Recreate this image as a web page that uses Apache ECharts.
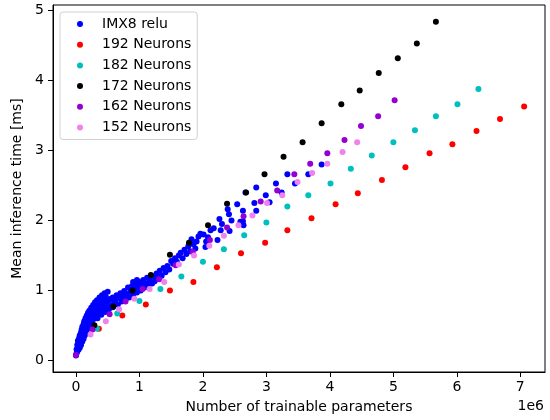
<!DOCTYPE html>
<html>
<head>
<meta charset="utf-8">
<script src="https://cdn.jsdelivr.net/npm/echarts@6/dist/echarts.min.js"></script>
<style>
  html, body { margin: 0; padding: 0; background: #fff; }
  #chart { width: 550px; height: 420px; }
</style>
</head>
<body>
<div id="chart"></div>
<script>
// x values are in millions of trainable parameters (axis shows "1e6")
const xTicks = [0, 1, 2, 3, 4, 5, 6, 7];
const yTicks = [0, 1, 2, 3, 4, 5];

// IMX8 relu cloud, [params (1e6), time ms]
const imxRelu = [
  [0.00,0.07],[0.01,0.10],[0.02,0.13],[0.01,0.16],[0.03,0.18],[0.02,0.22],[0.04,0.25],[0.03,0.28],
  [0.05,0.20],[0.06,0.24],[0.05,0.32],[0.07,0.30],[0.06,0.36],[0.08,0.34],[0.08,0.40],[0.09,0.44],
  [0.10,0.38],[0.10,0.48],[0.11,0.42],[0.12,0.52],[0.13,0.46],[0.13,0.56],[0.15,0.50],[0.15,0.60],
  [0.16,0.54],[0.17,0.64],[0.18,0.58],[0.19,0.68],[0.20,0.62],[0.21,0.71],[0.22,0.66],[0.24,0.75],
  [0.25,0.69],[0.27,0.79],[0.28,0.72],[0.30,0.83],[0.31,0.76],[0.33,0.86],[0.35,0.80],[0.37,0.90],
  [0.39,0.84],[0.41,0.93],[0.43,0.87],[0.45,0.96],[0.47,0.91],[0.50,0.98],
  [0.04,0.15],[0.06,0.18],[0.08,0.22],[0.10,0.27],[0.12,0.31],[0.14,0.36],[0.16,0.40],[0.19,0.45],
  [0.22,0.50],[0.25,0.55],[0.28,0.59],[0.31,0.63],[0.34,0.60],[0.36,0.67],[0.40,0.65],[0.42,0.71],
  [0.46,0.69],[0.48,0.75],[0.52,0.73],[0.55,0.78],[0.58,0.76],[0.60,0.82],
  [0.18,0.50],[0.21,0.55],[0.24,0.60],[0.27,0.65],[0.30,0.69],[0.33,0.72],[0.37,0.75],[0.40,0.78],
  [0.44,0.80],[0.48,0.83],[0.52,0.86],[0.55,0.88],[0.58,0.90],
  [0.62,0.86],[0.64,0.93],[0.66,0.80],[0.68,0.89],[0.70,0.96],[0.72,0.84],[0.74,0.92],[0.76,0.99],
  [0.78,0.87],[0.80,0.95],[0.82,1.04],[0.84,0.90],[0.86,0.98],[0.88,1.06],[0.90,0.94],[0.92,1.02],
  [0.90,1.12],[0.94,1.09],[0.96,0.97],[0.96,1.15],[0.98,1.05],[1.00,1.12],[1.02,1.00],[1.04,1.08],
  [1.06,1.15],[1.08,1.04],[1.10,1.10],[1.12,1.18],[1.14,1.07],[1.16,1.14],[1.20,1.10],[1.22,1.20],
  [1.24,1.13],[1.27,1.24],[1.30,1.17],[1.32,1.28],[1.35,1.21],[1.38,1.32],[1.41,1.26],[1.44,1.35],
  [1.47,1.30],[1.50,1.42],[1.53,1.38],[1.56,1.46],[1.59,1.41],[1.62,1.50],[1.65,1.54],[1.68,1.46],
  [1.71,1.58],[1.74,1.52],[1.77,1.63],[1.80,1.56],[1.82,1.73],[1.85,1.66],[1.88,1.60],[1.90,1.70],
  [1.93,1.77],[1.96,1.81],[2.01,1.80],[2.04,1.62],[2.05,1.70],[2.08,1.76],[2.12,1.86],[2.17,1.89],
  [2.23,1.72],[2.26,2.02],[2.28,1.86],[2.30,1.95],[2.39,2.16],[2.41,2.09],[2.42,1.85],[2.45,2.00],
  [2.54,2.23],[2.59,1.98],[2.63,2.14],[2.63,1.99],[2.64,1.93],[2.67,2.40],[2.81,2.25],[2.84,2.47],
  [2.84,2.14],[2.99,2.36],[3.05,2.26],[3.15,2.53],[3.24,2.40],[3.33,2.66],[3.45,2.53],[3.66,2.66],
  [3.87,2.80]
];

const n192X = [0.36,0.73,1.10,1.48,1.85,2.22,2.60,2.98,3.33,3.71,4.09,4.44,4.82,5.19,5.57,5.93,6.31,6.68,7.06];
const n192Y = [0.45,0.64,0.80,1.00,1.12,1.33,1.53,1.68,1.86,2.03,2.23,2.39,2.58,2.76,2.96,3.09,3.28,3.45,3.63];

const n182X = [0.33,0.65,1.00,1.33,1.66,2.00,2.33,2.65,3.00,3.33,3.66,4.01,4.33,4.66,5.00,5.34,5.67,6.01,6.34];
const n182Y = [0.45,0.67,0.85,1.02,1.20,1.41,1.59,1.79,1.97,2.20,2.36,2.53,2.74,2.93,3.12,3.29,3.49,3.66,3.88];

const n172X = [0.29,0.59,0.89,1.18,1.48,1.78,2.08,2.38,2.68,2.97,3.27,3.57,3.87,4.18,4.47,4.77,5.07,5.37,5.67];
const n172Y = [0.50,0.77,1.00,1.22,1.51,1.68,1.93,2.24,2.40,2.66,2.91,3.12,3.39,3.66,3.86,4.11,4.32,4.53,4.84];

const n162X = [0.00,0.26,0.53,0.78,1.05,1.31,1.57,1.84,2.11,2.38,2.64,2.91,3.17,3.44,3.69,3.96,4.23,4.49,4.76,5.02];
const n162Y = [0.076,0.44,0.66,0.84,1.02,1.16,1.36,1.55,1.72,1.90,2.06,2.27,2.43,2.66,2.81,2.96,3.15,3.35,3.49,3.72];

const n152X = [0.23,0.47,0.68,0.92,1.16,1.39,1.62,1.86,2.10,2.33,2.56,2.78,3.01,3.25,3.49,3.72,3.96,4.20,4.43];
const n152Y = [0.37,0.56,0.73,0.88,1.02,1.12,1.37,1.50,1.64,1.78,1.93,2.07,2.25,2.36,2.55,2.68,2.81,2.98,3.12];

const zip = (xs, ys) => xs.map((x, i) => [x, ys[i]]);

const font = 'DejaVu Sans';

const makeSeries = (name, color, data) => ({
  name: name,
  type: 'scatter',
  symbol: 'circle',
  symbolSize: 6,
  itemStyle: { color: color, opacity: 1 },
  emphasis: { disabled: true },
  data: data,
});

const chart = echarts.init(document.getElementById('chart'), null, { renderer: 'canvas' });

const option = {
  animation: false,
  backgroundColor: '#fff',
  textStyle: { fontFamily: font },
  grid: {
    left: 53, right: 5, top: 5, bottom: 48,
    show: true, borderColor: '#000', borderWidth: 1,
    containLabel: false,
  },
  legend: {
    left: 60, top: 12,
    orient: 'vertical',
    icon: 'circle',
    itemWidth: 6, itemHeight: 6,
    itemGap: 6.7,
    padding: [5, 6, 5, 17],
    backgroundColor: '#fff',
    borderColor: '#d0d0d0', borderWidth: 1, borderRadius: 3,
    textStyle: { fontFamily: font, fontSize: 14, color: '#000', lineHeight: 14, padding: [0, 0, 0, 14] },
    data: ['IMX8 relu', '192 Neurons', '182 Neurons', '172 Neurons', '162 Neurons', '152 Neurons'],
  },
  xAxis: {
    type: 'value',
    min: -0.362, max: 7.389,
    name: 'Number of trainable parameters',
    nameLocation: 'middle',
    nameGap: 28,
    nameTextStyle: { fontFamily: font, fontSize: 14, color: '#000' },
    axisLine: { show: true, onZero: false, lineStyle: { color: '#000', width: 1 } },
    axisTick: { show: true, length: 5, inside: false, customValues: xTicks, lineStyle: { color: '#000' } },
    axisLabel: { customValues: xTicks, margin: 8, fontFamily: font, fontSize: 14, color: '#000' },
    splitLine: { show: false },
  },
  yAxis: {
    type: 'value',
    min: -0.167, max: 5.081,
    name: 'Mean inference time [ms]',
    nameLocation: 'middle',
    nameGap: 23,
    nameTextStyle: { fontFamily: font, fontSize: 14, color: '#000' },
    axisLine: { show: true, onZero: false, lineStyle: { color: '#000', width: 1 } },
    axisTick: { show: true, length: 5, inside: false, customValues: yTicks, lineStyle: { color: '#000' } },
    axisLabel: { customValues: yTicks, margin: 9, fontFamily: font, fontSize: 14, color: '#000' },
    splitLine: { show: false },
  },
  graphic: [
    {
      type: 'text', right: 6, top: 399,
      style: { text: '1e6', font: '14px "DejaVu Sans"', fill: '#000' },
    },
  ],
  series: [
    makeSeries('IMX8 relu', '#0000ff', imxRelu),
    makeSeries('192 Neurons', '#ff0000', zip(n192X, n192Y)),
    makeSeries('182 Neurons', '#00bfbf', zip(n182X, n182Y)),
    makeSeries('172 Neurons', '#000000', zip(n172X, n172Y)),
    makeSeries('162 Neurons', '#9400d3', zip(n162X, n162Y)),
    makeSeries('152 Neurons', '#ee82ee', zip(n152X, n152Y)),
  ],
};

chart.setOption(option);
</script>
</body>
</html>
